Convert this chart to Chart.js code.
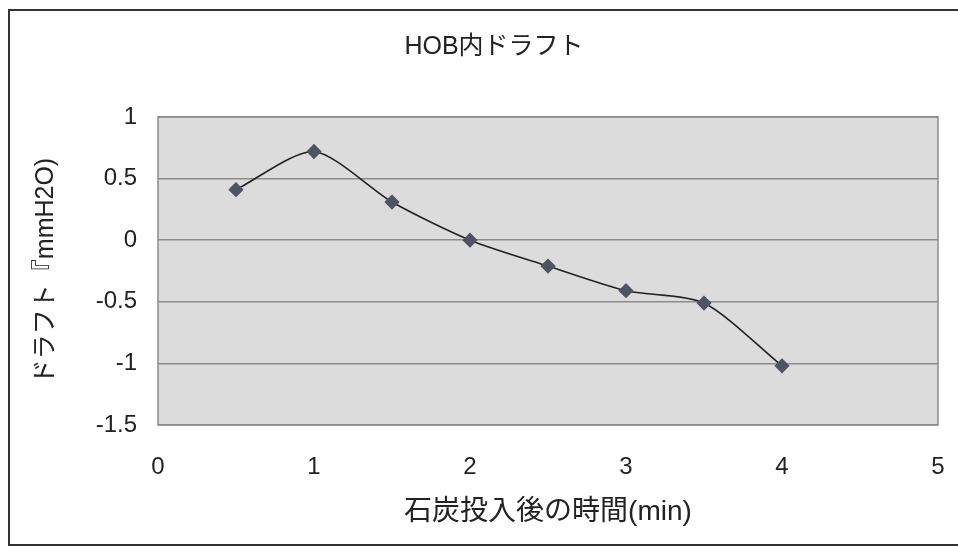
<!DOCTYPE html>
<html>
<head>
<meta charset="utf-8">
<script src="https://cdn.jsdelivr.net/npm/chart.js@4"></script>
<style>
  html, body { margin: 0; padding: 0; background: #fff; }
  #wrap { position: relative; width: 958px; height: 553px; overflow: hidden; }
  #frame {
    position: absolute; left: 8px; top: 9px; width: 970px; height: 537px;
    border: 2px solid #333; box-sizing: border-box;
  }
  canvas { position: absolute; left: 0; top: 0; }
</style>
</head>
<body>
<div id="wrap">
  <div id="frame"></div>
  <canvas id="draftChart" width="958" height="553"></canvas>
</div>
<script>
// time after coal charging (min) and draft inside HOB (mmH2O)
const timesMin = [0.5, 1, 1.5, 2, 2.5, 3, 3.5, 4];
const draftValues = [0.41, 0.72, 0.31, 0, -0.21, -0.41, -0.51, -1.02];
const xTicks = [0, 1, 2, 3, 4, 5];
const yTicks = [1, 0.5, 0, -0.5, -1, -1.5];

const fontFamily = '"Liberation Sans", "Noto Sans CJK JP", sans-serif';

const plotBackground = {
  id: "plotBackground",
  beforeDraw(chart) {
    const { ctx, chartArea: a } = chart;
    ctx.save();
    ctx.fillStyle = "#dcdcdc";
    ctx.fillRect(a.left, a.top, a.right - a.left, a.bottom - a.top);
    ctx.strokeStyle = "#8c8c8c";
    ctx.lineWidth = 1.5;
    ctx.strokeRect(a.left, a.top, a.right - a.left, a.bottom - a.top);
    ctx.restore();
  }
};

new Chart(document.getElementById("draftChart"), {
  type: "line",
  data: {
    datasets: [{
      data: timesMin.map((t, i) => ({ x: t, y: draftValues[i] })),
      borderColor: "#222",
      borderWidth: 1.6,
      tension: 0.25,
      pointStyle: "rectRot",
      pointRadius: 6.5,
      pointBackgroundColor: "#4f5463",
      pointBorderColor: "#4f5463",
      fill: false
    }]
  },
  options: {
    responsive: false,
    animation: false,
    // the frame of the original runs off to the right, so the title sits right of centre
    layout: { padding: { left: 16, right: -14, top: 0, bottom: 0 } },
    plugins: {
      legend: { display: false },
      tooltip: { enabled: false },
      title: {
        display: true,
        text: "HOB内ドラフト",
        color: "#222",
        font: { family: fontFamily, size: 25, weight: "normal" },
        padding: { top: 32, bottom: 55 }
      }
    },
    scales: {
      x: {
        type: "linear",
        min: 0,
        max: 5,
        afterBuildTicks: s => { s.ticks = xTicks.map(v => ({ value: v })); },
        afterFit: s => {
          s.height = 128;
          s.paddingLeft = 0;
          s.paddingRight = 20;
        },
        grid: { display: false, drawTicks: false },
        border: { display: false },
        ticks: {
          color: "#222",
          padding: 28,
          font: { family: fontFamily, size: 24 },
          callback: v => String(v)
        },
        title: {
          display: true,
          text: "石炭投入後の時間(min)",
          color: "#222",
          font: { family: fontFamily, size: 28 },
          padding: { top: 0, bottom: 24 }
        }
      },
      y: {
        min: -1.5,
        max: 1,
        afterBuildTicks: s => { s.ticks = yTicks.map(v => ({ value: v })); },
        afterFit: s => { s.width = 142; },
        grid: { color: "#8c8c8c", lineWidth: 1.5, drawTicks: false },
        border: { display: false },
        ticks: {
          color: "#222",
          padding: 21,
          font: { family: fontFamily, size: 24 },
          callback: v => String(v)
        },
        title: {
          display: true,
          text: "ドラフト『mmH2O)",
          color: "#222",
          font: { family: fontFamily, size: 25 },
          padding: { top: 15, bottom: 0 }
        }
      }
    }
  },
  plugins: [plotBackground]
});
</script>
</body>
</html>
